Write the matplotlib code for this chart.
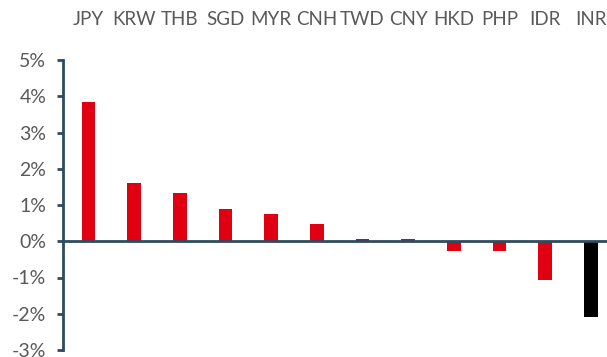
import matplotlib
matplotlib.use("Agg")
import matplotlib.pyplot as plt
from matplotlib.ticker import FuncFormatter

currencies = ["JPY", "KRW", "THB", "SGD", "MYR", "CNH", "TWD", "CNY", "HKD", "PHP", "IDR", "INR"]
changes = [3.85, 1.61, 1.32, 0.88, 0.74, 0.48, 0.07, 0.07, -0.28, -0.28, -1.06, -2.09]
highlight = "INR"

red = "#E00012"
axis_col = "#2F4B5E"
text_col = "#595959"

plt.rcParams['font.family'] = ['Lato', 'DejaVu Sans']

fig = plt.figure(figsize=(6.07, 3.57), dpi=100)
ax = fig.add_axes([63/607, 1-350/357, 1-63/607, (350-60)/357])

x = list(range(len(currencies)))
colors = ["black" if c == highlight else red for c in currencies]
ax.bar(x, changes, width=0.3, color=colors, zorder=2)

ax.set_xlim(-0.56, 11.355)
ax.set_ylim(-3, 5)
ax.set_yticks(range(-3, 6))
ax.yaxis.set_major_formatter(FuncFormatter(lambda v, p: f"{int(v)}%"))

ax.axhline(0, color=axis_col, linewidth=2, zorder=3)

for s in ["top", "right", "bottom"]:
    ax.spines[s].set_visible(False)
ax.spines["left"].set_color(axis_col)
ax.spines["left"].set_linewidth(2)

ax.xaxis.set_ticks_position("top")
ax.set_xticks(x)
ax.set_xticklabels(currencies)
ax.tick_params(axis="x", length=0, pad=23, labelsize=13.5, labelcolor=text_col)
ax.tick_params(axis="y", length=4, width=2, color=axis_col, pad=8, labelsize=14, labelcolor=text_col)

fig.savefig("out.png", dpi=100)
